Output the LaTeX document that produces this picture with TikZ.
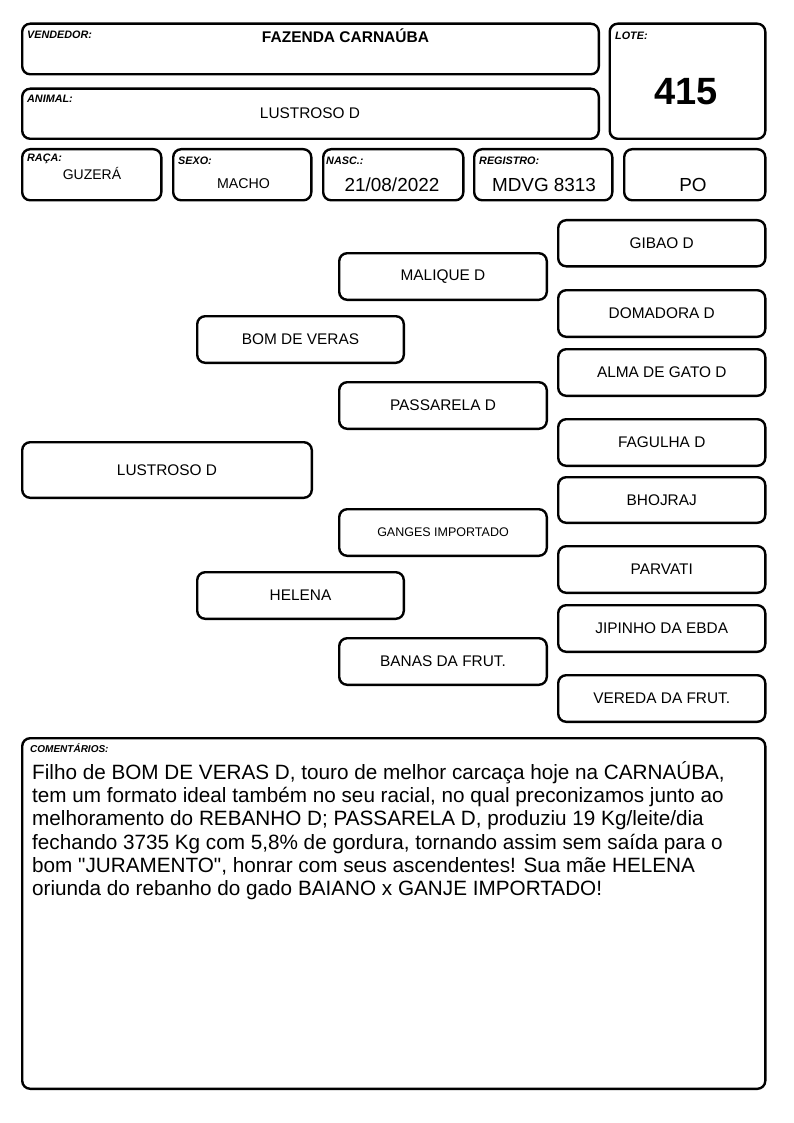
\documentclass[tikz,border=0pt]{standalone}
\usepackage{fontspec}
\setmainfont{Liberation Sans}
\newfontfamily\qfont{Liberation Sans}[Ligatures=TeXOff]
\newcommand\fsz[1]{\fontsize{#1}{#1}\selectfont}
\newcommand\sq{{\qfont\symbol{34}}}
\tikzset{
  box/.style={draw=black, line width=2.4pt, rounded corners=8pt, fill=white, inner sep=0pt, align=center},
  lbl/.style={inner sep=0pt, anchor=base west, font=\fsz{10.8}\bfseries\itshape},
  val/.style={inner sep=0pt, anchor=base},
  ctext/.style={inner sep=0pt, anchor=base west, font=\fsz{20.7}},
}
\newcommand\bx[7]{\node[box,font=#6,minimum width={#4-#2-2.4},minimum height={#5-#3-2.4}] (#1) at ({(#2+#4)/2},{(#3+#5)/2}) {#7};}
\begin{document}
\begin{tikzpicture}[x=1pt,y=-1pt]
\useasboundingbox[fill=white] (0,0) rectangle (794,1123);
% header boxes
\bx{vend}{21}{22.5}{600}{75.5}{\fsz{15}}{}
\bx{anim}{21}{87.5}{600}{140}{\fsz{15}}{}
\bx{lote}{608.5}{22.5}{766.5}{140}{\fsz{15}}{}
\bx{raca}{21}{148}{162.5}{201.5}{\fsz{14}}{}
\bx{sexo}{172}{148}{312.5}{201.5}{\fsz{14}}{}
\bx{nasc}{322}{148}{464.5}{201.5}{\fsz{14}}{}
\bx{regi}{473}{148}{613.5}{201.5}{\fsz{14}}{}
\bx{po}{623}{148}{766.5}{201.5}{\fsz{14}}{}
% header labels
\node[lbl] (vendl) at (27,39) {VENDEDOR:};
\node[lbl] (animl) at (27,103) {ANIMAL:};
\node[lbl] (lotel) at (615,40) {LOTE:};
\node[lbl] (racal) at (27,162) {RAÇA:};
\node[lbl] (sexol) at (178,165) {SEXO:};
\node[lbl] (nascl) at (326,165) {NASC.:};
\node[lbl] (regil) at (479,165) {REGISTRO:};
% header values
\node[val,font=\fsz{15.5}\bfseries] (vendv) at (345.5,43) {FAZENDA CARNAÚBA};
\node[val,font=\fsz{15.4}] (animv) at (310,119) {LUSTROSO D};
\node[val,font=\fsz{38}\bfseries] (lotev) at (686,105) {415};
\node[val,font=\fsz{14}] (racav) at (92,180) {GUZERÁ};
\node[val,font=\fsz{14.2}] (sexov) at (243.5,189) {MACHO};
\node[val,font=\fsz{18.9}] (nascv) at (392,192) {21/08/2022};
\node[val,font=\fsz{18.9}] (regiv) at (544,192) {MDVG 8313};
\node[val,font=\fsz{18.9}] (pov) at (693,192) {PO};
% pedigree
\bx{lus}{21}{441}{313}{499}{\fsz{15.4}}{LUSTROSO D}
\bx{bom}{196}{315}{405}{364}{\fsz{15.4}}{BOM DE VERAS}
\bx{hel}{196}{571}{405}{620}{\fsz{15.4}}{HELENA}
\bx{mal}{338}{252}{548}{301}{\fsz{15.4}}{MALIQUE D}
\bx{pas}{338}{381}{548}{430}{\fsz{15.4}}{PASSARELA D}
\bx{gan}{338}{508}{548}{557}{\fsz{12.5}}{GANGES IMPORTADO}
\bx{ban}{338}{637}{548}{686}{\fsz{15.4}}{BANAS DA FRUT.}
\bx{gib}{557}{219}{766.5}{267.5}{\fsz{15.4}}{GIBAO D}
\bx{dom}{557}{289}{766.5}{338}{\fsz{15.4}}{DOMADORA D}
\bx{alm}{557}{348}{766.5}{397}{\fsz{15.4}}{ALMA DE GATO D}
\bx{fag}{557}{418}{766.5}{467}{\fsz{15.4}}{FAGULHA D}
\bx{bho}{557}{476}{766.5}{524}{\fsz{15.4}}{BHOJRAJ}
\bx{par}{557}{545}{766.5}{594}{\fsz{15.4}}{PARVATI}
\bx{jip}{557}{604}{766.5}{653}{\fsz{15.4}}{JIPINHO DA EBDA}
\bx{ver}{557}{674}{766.5}{723}{\fsz{15.4}}{VEREDA DA FRUT.}
% comments
\bx{com}{21}{737}{766.5}{1090}{\fsz{15}}{}
\node[lbl,font=\fsz{10}\bfseries\itshape] (coml) at (30,752.5) {COMENTÁRIOS:};
\node[ctext] (c1) at (32,779.3) {Filho de BOM DE VERAS D, touro de melhor carcaça hoje na CARNAÚBA,};
\node[ctext] (c2) at (32,802.6) {tem um formato ideal também no seu racial, no qual preconizamos junto ao};
\node[ctext] (c3) at (32,825.9) {melhoramento do REBANHO D; PASSARELA D, produziu 19 Kg/leite/dia};
\node[ctext] (c4) at (32,849.2) {fechando 3735 Kg com 5,8\% de gordura, tornando assim sem saída para o};
\node[ctext] (c5) at (32,872.5) {bom \sq JURAMENTO\sq, honrar com seus ascendentes! Sua mãe HELENA};
\node[ctext] (c6) at (32,895.8) {oriunda do rebanho do gado BAIANO x GANJE IMPORTADO!};
\end{tikzpicture}
\end{document}
